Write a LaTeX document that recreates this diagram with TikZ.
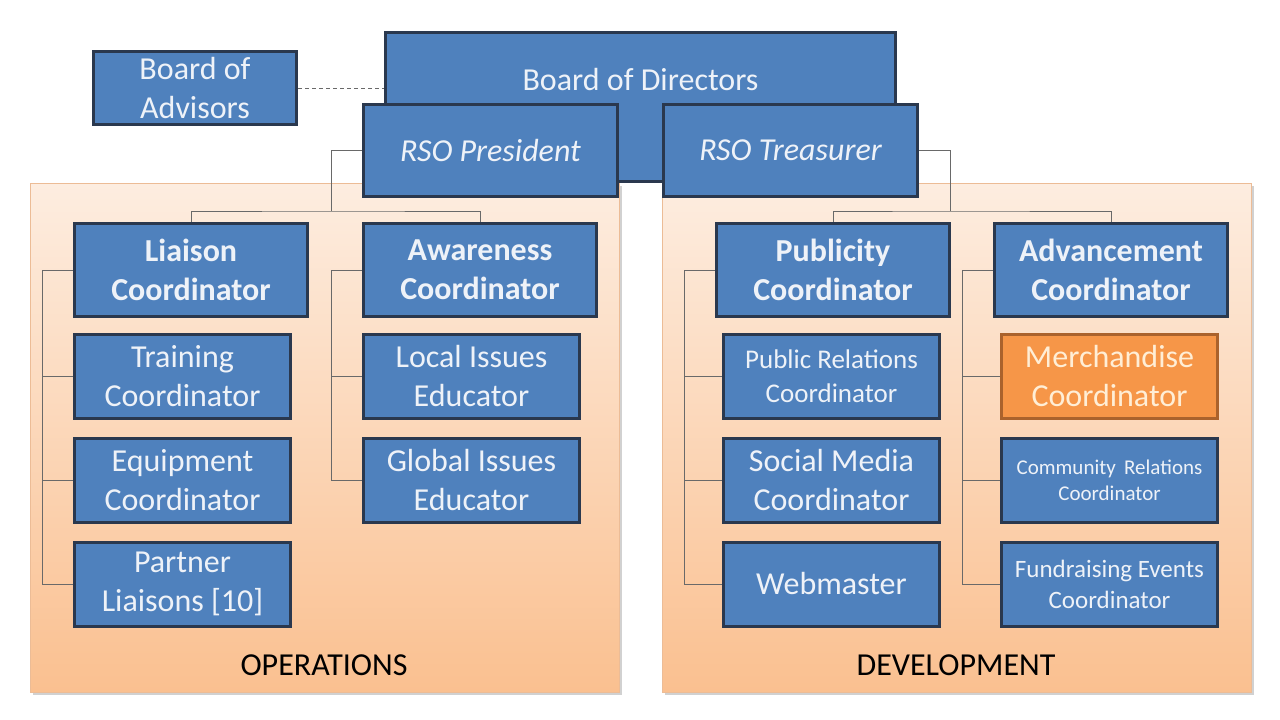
\documentclass[tikz,border=0pt]{standalone}
\usepackage{fontspec}
\setmainfont{Carlito}
\usetikzlibrary{positioning,calc}

\definecolor{boxblue}{RGB}{79,129,189}
\definecolor{boxedge}{RGB}{42,56,78}
\definecolor{boxtext}{RGB}{238,242,248}
\definecolor{merchfill}{RGB}{246,150,72}
\definecolor{merchedge}{RGB}{170,98,44}
\definecolor{merchtext}{RGB}{255,238,214}
\definecolor{paneltop}{RGB}{253,237,224}
\definecolor{panelbot}{RGB}{250,192,144}
\definecolor{paneledge}{RGB}{236,188,150}
\definecolor{linkgray}{RGB}{105,105,105}

\tikzset{
  box/.style={draw=boxedge, fill=boxblue, line width=3pt, text=boxtext,
    align=center, inner sep=0pt, font=\fontsize{32}{39}\selectfont},
  headbox/.style={box, font=\bfseries\fontsize{32}{39}\selectfont},
  officer/.style={box, font=\itshape\fontsize{32}{39}\selectfont},
  smallbox/.style 2 args={box, font=\fontsize{#1}{#2}\selectfont},
  wh/.style 2 args={minimum width=#1, minimum height=#2},
  link/.style={draw=linkgray, line width=1pt},
  panellabel/.style={font=\fontsize{32}{39}\selectfont, text=black},
}

\begin{document}
\begin{tikzpicture}[x=1pt, y=-1pt]
  \useasboundingbox[fill=white] (0,0) rectangle (1280,720);

  % panels
  \fill[black!18] (33,186) rectangle (622,695);
  \fill[black!18] (665,186) rectangle (1254,695);
  \shade[top color=paneltop, bottom color=panelbot, draw=paneledge] (30,183) rectangle (619,692);
  \shade[top color=paneltop, bottom color=panelbot, draw=paneledge] (662,183) rectangle (1251,692);
  \node[panellabel] (ops) at (324,665) {OPERATIONS};
  \node[panellabel] (dev) at (956,665) {DEVELOPMENT};

  % board level
  \node[box, wh={510}{149}, text height=20pt, text depth=54pt] (directors) at (640.5,107) {Board of Directors};
  \node[box, wh={203}{73}] (advisors) at (195,88) {Board of\\Advisors};
  \draw[link, dash pattern=on 4pt off 3pt] (advisors.east) -- (advisors.east -| directors.west);

  \node[officer, wh={254}{92}] (president) at (490.5,150.5) {RSO President};
  \node[officer, wh={254}{92}] (treasurer) at (790.5,150.5) {RSO Treasurer};

  % operations
  \node[headbox, wh={233}{93}] (liaison) at (191,270) {Liaison\\Coordinator};
  \node[headbox, wh={233}{93}] (awareness) at (480,270) {Awareness\\Coordinator};
  \node[box, wh={216}{84}] (training) at (182.5,376.5) {Training\\Coordinator};
  \node[box, wh={216}{84}] (equipment) at (182.5,480.5) {Equipment\\Coordinator};
  \node[box, wh={216}{84}] (partner) at (182.5,584) {Partner\\Liaisons [10]};
  \node[box, wh={216}{84}] (local) at (471.5,376.5) {Local Issues\\Educator};
  \node[box, wh={216}{84}] (global) at (471.5,480.5) {Global Issues\\Educator};

  % development
  \node[headbox, wh={233}{93}] (publicity) at (833,270) {Publicity\\Coordinator};
  \node[headbox, wh={233}{93}] (advancement) at (1111,270) {Advancement\\Coordinator};
  \node[smallbox={27}{34}, wh={216}{84}] (pr) at (831.5,376.5) {Public Relations\\Coordinator};
  \node[box, wh={216}{84}] (social) at (831.5,480.5) {Social Media\\Coordinator};
  \node[box, wh={216}{84}] (web) at (831.5,584) {Webmaster};
  \node[box, wh={216}{84}, fill=merchfill, draw=merchedge, text=merchtext] (merch) at (1109.5,376.5) {Merchandise\\Coordinator};
  \node[smallbox={21}{26}, wh={216}{84}] (community) at (1109.5,480.5) {Community\, Relations\\Coordinator};
  \node[smallbox={25}{31}, wh={216}{84}] (fundraising) at (1109.5,584) {Fundraising Events\\Coordinator};

  % connectors
  \coordinate (opsbar) at (331,211);
  \coordinate (devbar) at (950,211);
  \draw[link] (president.west) -| (opsbar);
  \draw[link] (liaison.north) |- (opsbar) -| (awareness.north);
  \draw[link] (treasurer.east) -| (devbar);
  \draw[link] (publicity.north) |- (devbar) -| (advancement.north);

  \coordinate (liaisontrunk) at ([xshift=-31pt]liaison.west);
  \draw[link] (liaison.west) -- (liaisontrunk) |- (partner.west);
  \draw[link] (training.west) -- (training.west -| liaisontrunk);
  \draw[link] (equipment.west) -- (equipment.west -| liaisontrunk);

  \coordinate (awaretrunk) at ([xshift=-31pt]awareness.west);
  \draw[link] (awareness.west) -- (awaretrunk) |- (global.west);
  \draw[link] (local.west) -- (local.west -| awaretrunk);

  \coordinate (pubtrunk) at ([xshift=-31pt]publicity.west);
  \draw[link] (publicity.west) -- (pubtrunk) |- (web.west);
  \draw[link] (pr.west) -- (pr.west -| pubtrunk);
  \draw[link] (social.west) -- (social.west -| pubtrunk);

  \coordinate (advtrunk) at ([xshift=-31pt]advancement.west);
  \draw[link] (advancement.west) -- (advtrunk) |- (fundraising.west);
  \draw[link] (merch.west) -- (merch.west -| advtrunk);
  \draw[link] (community.west) -- (community.west -| advtrunk);
\end{tikzpicture}
\end{document}
